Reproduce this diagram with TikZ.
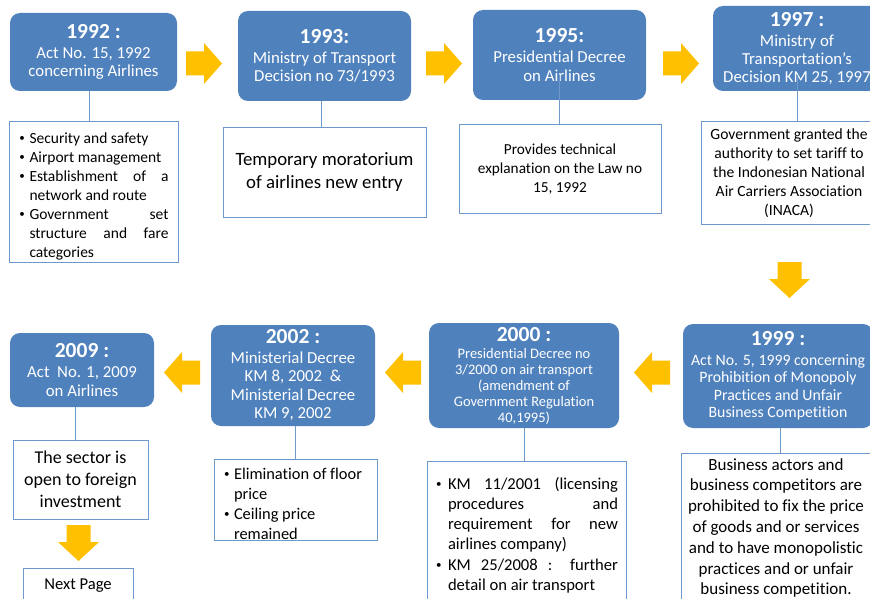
\documentclass[tikz,border=0pt]{standalone}
\usepackage{fontspec}
\setmainfont{Carlito}[Ligatures=NoCommon]
\usetikzlibrary{calc}
\definecolor{bluefill}{HTML}{4F81BD}
\definecolor{edgeblue}{HTML}{6F98CC}
\definecolor{yarrowc}{HTML}{FFC000}
\newcommand\bodyfont{\fontsize{16.8}{18.3}\selectfont}
\newcommand\yearfont{\fontsize{21.5}{24}\selectfont\bfseries}
\newcommand\smallbullet{\raisebox{0.12em}{\fontsize{11}{11}\selectfont •}}
\newcommand\bitem[2]{\par\hangindent=#1\hangafter=1\noindent\makebox[#1][l]{\hspace{1pt}\smallbullet}#2\par}
\newcommand\arrowR[1]{\fill[yarrowc] (#1) ++(0,-12) -- ++(18,0) -- ++(0,-8.5) -- ++(18,20.5) -- ++(-18,20.5) -- ++(0,-8.5) -- ++(-18,0) -- cycle;}
\newcommand\arrowL[1]{\fill[yarrowc] (#1) ++(0,-12) -- ++(-18,0) -- ++(0,-8.5) -- ++(-18,20.5) -- ++(18,20.5) -- ++(0,-8.5) -- ++(18,0) -- cycle;}
\newcommand\arrowD[1]{\fill[yarrowc] (#1) ++(-12,0) -- ++(0,17) -- ++(-8.5,0) -- ++(20.5,19) -- ++(20.5,-19) -- ++(-8.5,0) -- ++(0,-17) -- cycle;}
\begin{document}
\begin{tikzpicture}[x=1pt,y=-1pt,
  bbox/.style={fill=bluefill, draw=none, rounded corners=10pt, text=white, align=center, inner sep=0pt, font=\bodyfont},
  wbox/.style={draw=edgeblue, fill=white, line width=1pt, inner sep=0pt},
  conn/.style={draw=edgeblue, line width=1pt}]
\useasboundingbox (0,0) rectangle (870,599);
\clip (0,0) rectangle (870,599);
\fill[white] (0,0) rectangle (870,599);

% ---- top row blue boxes
\node[bbox, minimum width=167pt, minimum height=78pt] (B1992) at (93.5,52)
  {{\yearfont 1992 :}\\[2pt]Act No. 15, 1992\\concerning Airlines};
\node[bbox, minimum width=173pt, minimum height=90pt] (B1993) at (324.5,56)
  {{\yearfont 1993:}\\[2pt]Ministry of Transport\\Decision no 73/1993};
\node[bbox, minimum width=173pt, minimum height=90pt] (B1995) at (559.5,55)
  {{\yearfont 1995:}\\[2pt]Presidential Decree\\on Airlines};
\node[bbox, minimum width=168pt, minimum height=85pt] (B1997) at (797,48.5)
  {{\yearfont 1997 :}\\[2pt]Ministry of\\Transportation’s\\Decision KM 25, 1997};

% ---- bottom row blue boxes
\node[bbox, minimum width=190pt, minimum height=104pt, font=\fontsize{15.8}{17.5}\selectfont] (B1999) at (778,376)
  {{\yearfont 1999 :}\\[2pt]Act No. 5, 1999 concerning\\Prohibition of Monopoly\\Practices and Unfair\\Business Competition};
\node[bbox, minimum width=190pt, minimum height=105pt, font=\fontsize{14.5}{16}\selectfont] (B2000) at (524,375.5)
  {{\yearfont 2000 :}\\[1pt]Presidential Decree no\\3/2000 on air transport\\(amendment of\\Government Regulation\\40,1995)};
\node[bbox, minimum width=164pt, minimum height=101pt, font=\fontsize{16.8}{18.5}\selectfont] (B2002) at (293,375.5)
  {{\yearfont 2002 :}\\[1pt]Ministerial Decree\\KM 8, 2002 \ \&\\Ministerial Decree\\KM 9, 2002};
\node[bbox, minimum width=144pt, minimum height=74pt] (B2009) at (82,370)
  {{\yearfont 2009 :}\\[2pt]Act \ No. 1, 2009\\on Airlines};

% ---- white boxes
\node[wbox, minimum width=169pt, minimum height=140pt, text width=150pt, align=justify,
  font=\fontsize{15.5}{19}\selectfont] (W1992) at (93.5,192)
  {\bitem{11pt}{Security and safety}%
   \bitem{11pt}{Airport management}%
   \bitem{11pt}{Establishment of a\linebreak network and route}%
   \bitem{11pt}{Government set\linebreak structure and fare\linebreak categories}};
\node[wbox, minimum width=203pt, minimum height=89pt, align=center,
  font=\fontsize{18.8}{23}\selectfont] (W1993) at (324.5,172.5)
  {Temporary moratorium\\of airlines new entry};
\node[wbox, minimum width=202pt, minimum height=88pt, align=center,
  font=\fontsize{15.3}{18.7}\selectfont] (W1995) at (560,169)
  {Provides technical\\explanation on the Law no\\15, 1992};
\node[wbox, minimum width=176pt, minimum height=102pt, align=center,
  font=\fontsize{15.6}{19}\selectfont] (W1997) at (789,173)
  {Government granted the\\authority to set tariff to\\the Indonesian National\\Air Carriers Association\\(INACA)};
\node[wbox, minimum width=190pt, minimum height=150pt, align=center,
  font=\fontsize{17}{20.8}\selectfont] (W1999) at (776,528)
  {Business actors and\\business competitors are\\prohibited to fix the price\\of goods and or services\\and to have monopolistic\\practices and or unfair\\business competition.};
\node[wbox, minimum width=199pt, minimum height=140pt, text width=183pt, align=justify,
  font=\fontsize{16.6}{20.3}\selectfont] (W2000) at (526.5,531)
  {\bitem{13pt}{KM 11/2001 (licensing\linebreak procedures and\linebreak requirement for new\linebreak airlines company)}%
   \bitem{13pt}{KM 25/2008 : further\linebreak detail on air transport}};
\node[wbox, minimum width=163pt, minimum height=81pt, text width=145pt, align=flush left,
  font=\fontsize{16.4}{20}\selectfont] (W2002) at (295.5,499.5)
  {\bitem{11pt}{Elimination of floor\newline price}%
   \bitem{11pt}{Ceiling price\newline remained}};
\node[wbox, minimum width=135pt, minimum height=79pt, align=center,
  font=\fontsize{18}{22}\selectfont] (W2009) at (80.5,479.5)
  {The sector is\\open to foreign\\investment};
\node[wbox, minimum width=110pt, minimum height=35pt, align=center,
  font=\fontsize{16.6}{20}\selectfont] (Wnext) at (78,585.5) {Next Page};

% ---- connectors
\draw[conn] ([xshift=-4.5pt]B1992.south) -- ([xshift=-4.5pt]B1992.south |- W1992.north);
\draw[conn] ([xshift=-3.5pt]B1993.south) -- ([xshift=-3.5pt]B1993.south |- W1993.north);
\draw[conn] ([yshift=25pt]B1995.south) -- (B1995.south |- W1995.north);
\draw[conn] ([yshift=16pt]B1997.south) -- (B1997.south |- W1997.north);
\draw[conn] ([xshift=2pt]B1999.south) -- ([xshift=2pt]B1999.south |- W1999.north);
\draw[conn] (B2000.south) -- (B2000.south |- W2000.north);
\draw[conn] ([xshift=2pt]B2002.south) -- ([xshift=2pt]B2002.south |- W2002.north);
\draw[conn] ([xshift=-7pt]B2009.south) -- ([xshift=-7pt]B2009.south |- W2009.north);

% ---- block arrows
\coordinate (a1) at (186,63.5);
\coordinate (a2) at (426,63.5);
\coordinate (a3) at (663,63.5);
\coordinate (a4) at (789.5,262);
\coordinate (a5) at (670,372.5);
\coordinate (a6) at (421,372.5);
\coordinate (a7) at (200,372.5);
\coordinate (a8) at (78.5,525);
\arrowR{a1}
\arrowR{a2}
\arrowR{a3}
\arrowD{a4}
\arrowL{a5}
\arrowL{a6}
\arrowL{a7}
\arrowD{a8}
\end{tikzpicture}
\end{document}
